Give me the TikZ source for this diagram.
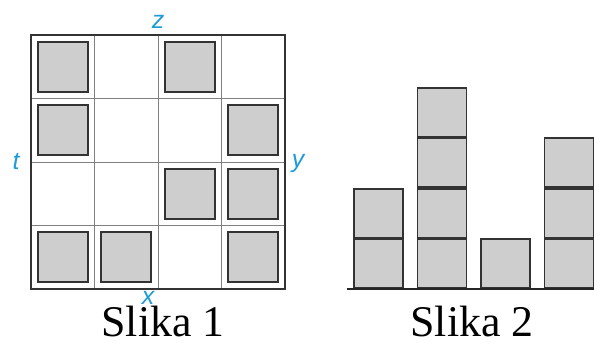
\documentclass[tikz,border=0pt]{standalone}
\usepackage{fontspec}
\setmainfont{Liberation Serif}
\newfontfamily\labelfont{Liberation Sans}

\definecolor{tilegray}{RGB}{206,206,206}
\definecolor{labelblue}{RGB}{30,155,215}

\newcommand*{\cellw}{63.5}
\newcommand*{\blockh}{50.5}

\begin{document}
\begin{tikzpicture}
[
	x=1bp,y=-1bp,
	gridline/.style={draw=black!50,line width=0.9bp},
	frame/.style={draw=black!80,line width=1.3bp},
	tile/.style={fill=tilegray,draw=black!80,line width=2bp},
	block/.style={fill=tilegray,draw=black!80,line width=1.8bp},
	ground/.style={draw=black!85,line width=1.8bp},
	dirlabel/.style={text=labelblue,inner sep=0pt,anchor=base,
		font=\labelfont\itshape\fontsize{25}{25}\selectfont},
	caption/.style={inner sep=0pt,anchor=base,font=\fontsize{44}{44}\selectfont}
]

	\useasboundingbox (0,0) rectangle (594,346);

	% Slika 1: the board seen from above
	\begin{scope}[shift={(31,35)},x=\cellw bp,y=-\cellw bp]
		\foreach \i in {1,2,3} {
			\draw[gridline] (\i,0) -- (\i,4);
			\draw[gridline] (0,\i) -- (4,\i);
		}
		\draw[frame] (0,0) rectangle (4,4);

		% gray tiles
		\foreach \c/\r in {0/0,2/0,0/1,3/1,2/2,3/2,0/3,1/3,3/3}
			\draw[tile] (\c+0.11,\r+0.11) rectangle +(0.78,0.78);
	\end{scope}

	% sides
	\node[dirlabel] (z) at (158,28) {z};
	\node[dirlabel] (t) at (16,169) {t};
	\node[dirlabel] (y) at (298,167) {y};
	\node[dirlabel] (x) at (148,304) {x};

	% Slika 2: the stacks seen from the side
	\begin{scope}[shift={(354,289)},x=\cellw bp,y=\blockh bp]
		\foreach \c/\h in {0/2,1/4,2/1,3/3}
			\foreach \k in {1,...,\h}
				\draw[block] (\c,\k-0.985) rectangle (\c+0.77,\k-0.015);
	\end{scope}
	\draw[ground] (347,289) -- (594,289);

	% captions
	\node[caption] (slika1) at (163,336) {Slika 1};
	\node[caption] (slika2) at (472,336) {Slika 2};

\end{tikzpicture}
\end{document}
